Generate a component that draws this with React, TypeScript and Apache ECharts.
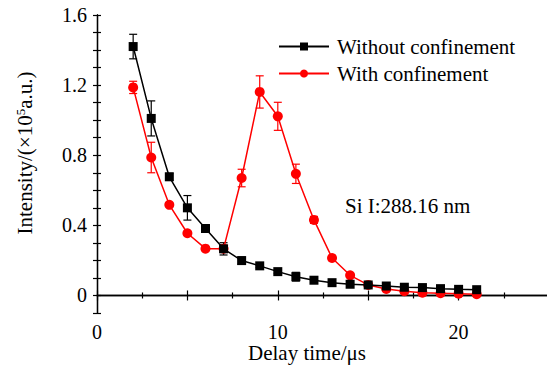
import React, { useEffect, useRef } from "react";
import * as echarts from "echarts";

const delayTimes = [2, 3, 4, 5, 6, 7, 8, 9, 10, 11, 12, 13, 14, 15, 16, 17, 18, 19, 20, 21];
const withoutVals = [1.42, 1.01, 0.677, 0.5, 0.382, 0.266, 0.199, 0.169, 0.136, 0.107, 0.087, 0.073, 0.064, 0.06, 0.054, 0.047, 0.045, 0.039, 0.035, 0.033];
const withoutErr = [0.07, 0.1, 0.02, 0.07, 0.01, 0.035, 0.02, 0.01, 0.01, 0.025, 0.01, 0.01, 0.006, 0.006, 0.006, 0.006, 0.006, 0.006, 0.006, 0.006];
const withVals = [1.187, 0.787, 0.517, 0.355, 0.267, 0.267, 0.67, 1.161, 1.022, 0.694, 0.431, 0.214, 0.115, 0.06, 0.037, 0.024, 0.016, 0.013, 0.01, 0.007];
const withErr = [0.035, 0.087, 0.01, 0.01, 0.01, 0.02, 0.05, 0.092, 0.08, 0.055, 0.02, 0.015, 0.01, 0.006, 0.006, 0.006, 0.006, 0.006, 0.006, 0.006];

const SERIF = "'Liberation Serif', 'Times New Roman', serif";
const BLACK = "#000000";
const RED = "#ff0000";

function errorSeries(name: string, vals: number[], errs: number[], color: string) {
  return {
    type: "custom",
    name: name + "-err",
    xAxisIndex: 0,
    yAxisIndex: 0,
    z: 1,
    silent: true,
    data: delayTimes.map((x, i) => [x, vals[i], errs[i]]),
    encode: { x: 0, y: 1 },
    renderItem: (params: any, api: any) => {
      const x = api.value(0);
      const y = api.value(1);
      const e = api.value(2);
      const top = api.coord([x, y + e]);
      const bot = api.coord([x, y - e]);
      const hw = 4;
      const style = { stroke: color, lineWidth: 1.2 };
      return {
        type: "group",
        children: [
          { type: "line", shape: { x1: top[0], y1: top[1], x2: bot[0], y2: bot[1] }, style },
          { type: "line", shape: { x1: top[0] - hw, y1: top[1], x2: top[0] + hw, y2: top[1] }, style },
          { type: "line", shape: { x1: bot[0] - hw, y1: bot[1], x2: bot[0] + hw, y2: bot[1] }, style },
        ],
      };
    },
  };
}

export default function App() {
  const ref = useRef<HTMLDivElement>(null);
  useEffect(() => {
    if (!ref.current) return;
    const chart = echarts.init(ref.current, null, { renderer: "svg" });
    const axisLine = { show: true, lineStyle: { color: BLACK, width: 1.3 } };
    const xCommon = {
      type: "value",
      min: 0,
      max: 25,
      interval: 5,
      axisLine,
      axisTick: { show: true, inside: true, length: 5, lineStyle: { color: BLACK, width: 1.2 } },
      minorTick: { show: true, splitNumber: 2, length: 3, lineStyle: { color: BLACK, width: 1.2 } },
      splitLine: { show: false },
    };
    const yCommon = {
      type: "value",
      min: -0.1,
      max: 1.6,
      interval: 0.1,
      axisLine,
      axisTick: { show: true, inside: true, length: 4, lineStyle: { color: BLACK, width: 1.2 } },
      splitLine: { show: false },
    };
    chart.setOption({
      animation: false,
      backgroundColor: "#ffffff",
      textStyle: { fontFamily: SERIF },
      grid: { left: 97, top: 15, width: 452, height: 298, outerBoundsMode: "none", containLabel: false },
      xAxis: [
        {
          ...xCommon,
          position: "bottom",
          name: "Delay time/μs",
          nameLocation: "middle",
          nameGap: 31,
          nameMoveOverlap: false,
          nameTextStyle: {
            fontSize: 21,
            lineHeight: 18,
            color: BLACK,
            fontFamily: SERIF,
            padding: [0, 32, 0, 0],
            verticalAlign: "top",
          },
          axisLabel: {
            show: true,
            margin: 10,
            fontSize: 20,
            lineHeight: 18,
            color: BLACK,
            fontFamily: SERIF,
            formatter: (v: number) => (Math.round(v) % 10 === 0 ? String(Math.round(v)) : ""),
          },
        },
        {
          ...xCommon,
          position: "top",
          axisLabel: { show: false },
        },
      ],
      yAxis: [
        {
          ...yCommon,
          position: "left",
          name: "{a|Intensity/(×10}{s|5}{a|a.u.)}",
          nameLocation: "middle",
          nameGap: 62,
          nameMoveOverlap: false,
          nameTextStyle: {
            fontSize: 21,
            color: BLACK,
            fontFamily: SERIF,
            padding: [0, 0, 0, 22],
            rich: {
              a: { fontSize: 21, color: BLACK, fontFamily: SERIF },
              s: { fontSize: 13, color: BLACK, fontFamily: SERIF, verticalAlign: "top", padding: [0, 0, 8, 0] },
            },
          },
          axisLabel: {
            show: true,
            margin: 10,
            fontSize: 20,
            color: BLACK,
            fontFamily: SERIF,
            formatter: (v: number) => {
              const n = Math.round(v * 10);
              if (n < 0 || n % 4 !== 0) return "";
              return n === 0 ? "0" : (n / 10).toFixed(1);
            },
          },
        },
        {
          ...yCommon,
          position: "right",
          axisLabel: { show: false },
        },
      ],
      legend: {
        orient: "vertical",
        left: 278,
        top: 36,
        padding: 0,
        itemWidth: 50,
        itemHeight: 10,
        itemGap: 6,
        textStyle: { fontSize: 21, color: BLACK, fontFamily: SERIF, padding: [0, 0, 0, 3] },
        data: ["Without confinement", "With confinement"],
      },
      graphic: [
        {
          type: "text",
          left: 345,
          top: 195,
          style: { text: "Si I:288.16 nm", fontSize: 21, fill: BLACK, fontFamily: SERIF },
        },
      ],
      series: [
        errorSeries("Without confinement", withoutVals, withoutErr, BLACK),
        errorSeries("With confinement", withVals, withErr, RED),
        {
          type: "line",
          name: "Without confinement",
          data: delayTimes.map((x, i) => [x, withoutVals[i]]),
          symbol: "rect",
          symbolSize: 9,
          z: 3,
          lineStyle: { color: BLACK, width: 1.5 },
          itemStyle: { color: BLACK },
        },
        {
          type: "line",
          name: "With confinement",
          data: delayTimes.map((x, i) => [x, withVals[i]]),
          symbol: "circle",
          symbolSize: 10,
          z: 2,
          lineStyle: { color: RED, width: 1.5 },
          itemStyle: { color: RED },
        },
      ],
    });
    return () => chart.dispose();
  }, []);
  return (
    <div
      ref={ref}
      style={{ position: "fixed", left: 0, top: 0, width: 547, height: 372, background: "#fff" }}
    />
  );
}
